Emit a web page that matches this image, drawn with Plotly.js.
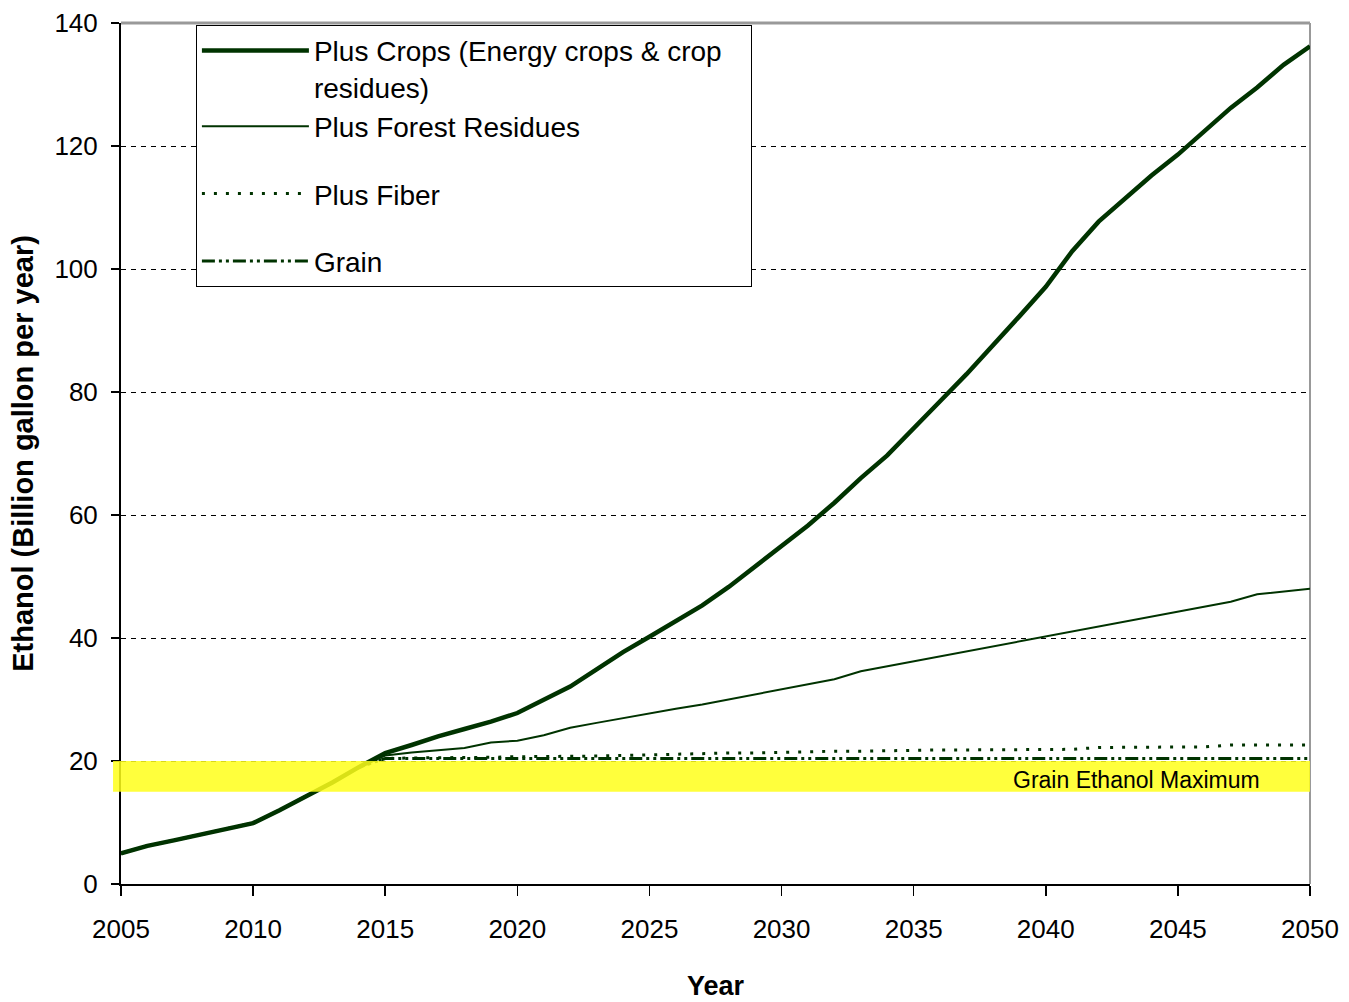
<!DOCTYPE html>
<html>
<head>
<meta charset="utf-8">
<script src="https://cdn.plot.ly/plotly-3.0.1.min.js"></script>
<style>
  html, body { margin: 0; padding: 0; background: #ffffff; }
  #chart { width: 1349px; height: 1002px; }
</style>
</head>
<body>
<div id="chart"></div>
<script>
// Projected ethanol supply, billion gallons per year
const years = [2005,2006,2007,2008,2009,2010,2011,2012,2013,2014,
               2015,2016,2017,2018,2019,2020,2021,2022,2023,2024,
               2025,2026,2027,2028,2029,2030,2031,2032,2033,2034,
               2035,2036,2037,2038,2039,2040,2041,2042,2043,2044,
               2045,2046,2047,2048,2049,2050];

const plusCrops = [5.0,6.2,7.1,8.0,8.9,9.9,12.0,14.2,16.5,19.0,
                   21.3,22.6,24.0,25.2,26.4,27.8,29.9,32.1,34.9,37.7,
                   40.2,42.8,45.3,48.3,51.6,55.1,58.3,62.0,66.0,69.7,
                   74.2,78.5,82.9,87.5,92.3,97.1,102.9,107.7,111.5,115.2,
                   118.6,122.3,126.2,129.5,133.2,136.2];

const plusForestResidues = [5.0,6.2,7.1,8.0,8.9,9.9,12.0,14.2,16.5,19.0,
                   20.9,21.4,21.8,22.1,23.0,23.3,24.2,25.4,26.2,27.0,
                   27.7,28.5,29.2,30.0,30.8,31.6,32.4,33.3,34.6,35.4,
                   36.2,37.0,37.8,38.6,39.4,40.2,41.0,41.8,42.6,43.4,
                   44.2,45.0,45.9,47.1,47.6,48.0];

const plusFiber = [5.0,6.2,7.1,8.0,8.9,9.9,12.0,14.2,16.5,19.0,
                   20.4,20.5,20.5,20.6,20.6,20.7,20.7,20.8,20.8,20.9,
                   21.0,21.2,21.2,21.3,21.3,21.4,21.6,21.6,21.6,21.7,
                   21.7,21.8,21.8,21.8,21.9,21.9,21.9,22.2,22.2,22.2,
                   22.2,22.3,22.6,22.6,22.6,22.6];

const grain = [5.0,6.2,7.1,8.0,8.9,9.9,12.0,14.2,16.5,19.0,
               20.4,20.4,20.4,20.4,20.4,20.4,20.4,20.4,20.4,20.4,
               20.4,20.4,20.4,20.4,20.4,20.4,20.4,20.4,20.4,20.4,
               20.4,20.4,20.4,20.4,20.4,20.4,20.4,20.4,20.4,20.4,
               20.4,20.4,20.4,20.4,20.4,20.4];

// Grain ethanol ceiling band
const grainMaxLow = 15;
const grainMaxHigh = 20;
const grainMaxLabel = 'Grain Ethanol Maximum';

const seriesNames = [
  'Plus Crops (Energy crops &amp; crop&nbsp;&nbsp;&nbsp;<br>residues)',
  'Plus Forest Residues',
  'Plus Fiber',
  'Grain'
];

const green = '#003300';
const fontFamily = '"Liberation Sans", Arial, sans-serif';

const traces = [
  { x: years, y: plusCrops, name: seriesNames[0], legendgroup: 'a',
    mode: 'lines', line: { color: green, width: 4.5 } },
  { x: years, y: plusForestResidues, name: seriesNames[1], legendgroup: 'a',
    mode: 'lines', line: { color: green, width: 2 } },
  { x: years, y: plusFiber, name: seriesNames[2], legendgroup: 'c',
    mode: 'lines', line: { color: green, width: 3, dash: '3px,9px' } },
  { x: years, y: grain, name: seriesNames[3], legendgroup: 'd',
    mode: 'lines', line: { color: green, width: 3, dash: '13px,4px,3px,4px,3px,4px' } }
];

const layout = {
  width: 1349,
  height: 1002,
  paper_bgcolor: '#ffffff',
  plot_bgcolor: '#ffffff',
  margin: { l: 121, r: 39, t: 23, b: 118 },
  font: { family: fontFamily, color: '#000000', size: 26 },
  showlegend: true,
  legend: {
    x: 0.063, xanchor: 'left',
    y: 0.998, yanchor: 'top',
    bgcolor: '#ffffff',
    bordercolor: '#000000',
    borderwidth: 1,
    font: { family: fontFamily, size: 28, color: '#000000' },
    valign: 'top',
    itemwidth: 107,
    tracegroupgap: 28,
    traceorder: 'grouped'
  },
  xaxis: {
    range: [2005, 2050],
    dtick: 5,
    tick0: 2005,
    showgrid: false,
    zeroline: false,
    showline: true,
    linecolor: '#000000',
    linewidth: 2,
    ticks: 'outside',
    ticklen: 10,
    tickwidth: 1.5,
    tickcolor: '#000000',
    ticklabelstandoff: 11,
    tickfont: { family: fontFamily, size: 26, color: '#000000' },
    title: { text: '<b>Year</b>', font: { family: fontFamily, size: 27, color: '#000000' }, standoff: 33 }
  },
  yaxis: {
    range: [0, 140],
    dtick: 20,
    showgrid: true,
    gridcolor: '#000000',
    gridwidth: 1,
    griddash: '5px,5px',
    zeroline: false,
    showline: true,
    linecolor: '#000000',
    linewidth: 2,
    ticks: 'outside',
    ticklen: 8,
    tickwidth: 1.5,
    tickcolor: '#000000',
    ticklabelstandoff: 8,
    tickfont: { family: fontFamily, size: 26, color: '#000000' },
    title: { text: '<b>Ethanol (Billion gallon per year)</b>', font: { family: fontFamily, size: 29, color: '#000000' }, standoff: 12 }
  },
  shapes: [
    // plot-area frame, top and right edges
    { type: 'line', xref: 'paper', yref: 'paper', x0: 0, x1: 1, y0: 1, y1: 1,
      line: { color: '#999999', width: 3 }, layer: 'below' },
    { type: 'line', xref: 'paper', yref: 'paper', x0: 1, x1: 1, y0: 0, y1: 1,
      line: { color: '#999999', width: 2 }, layer: 'below' },
    // grain ethanol ceiling band
    { type: 'rect', xref: 'paper', yref: 'y', x0: -0.0067, x1: 1,
      y0: grainMaxLow, y1: grainMaxHigh,
      fillcolor: '#ffff1a', opacity: 0.85, line: { width: 0 }, layer: 'above' }
  ],
  annotations: [
    { xref: 'x', yref: 'y', x: 2048.2, y: (grainMaxLow + grainMaxHigh) / 2 - 0.6,
      xanchor: 'right', yanchor: 'middle', showarrow: false,
      text: grainMaxLabel,
      font: { family: fontFamily, size: 23, color: '#000000' } }
  ]
};

Plotly.newPlot('chart', traces, layout, { displayModeBar: false, staticPlot: true });
</script>
</body>
</html>
